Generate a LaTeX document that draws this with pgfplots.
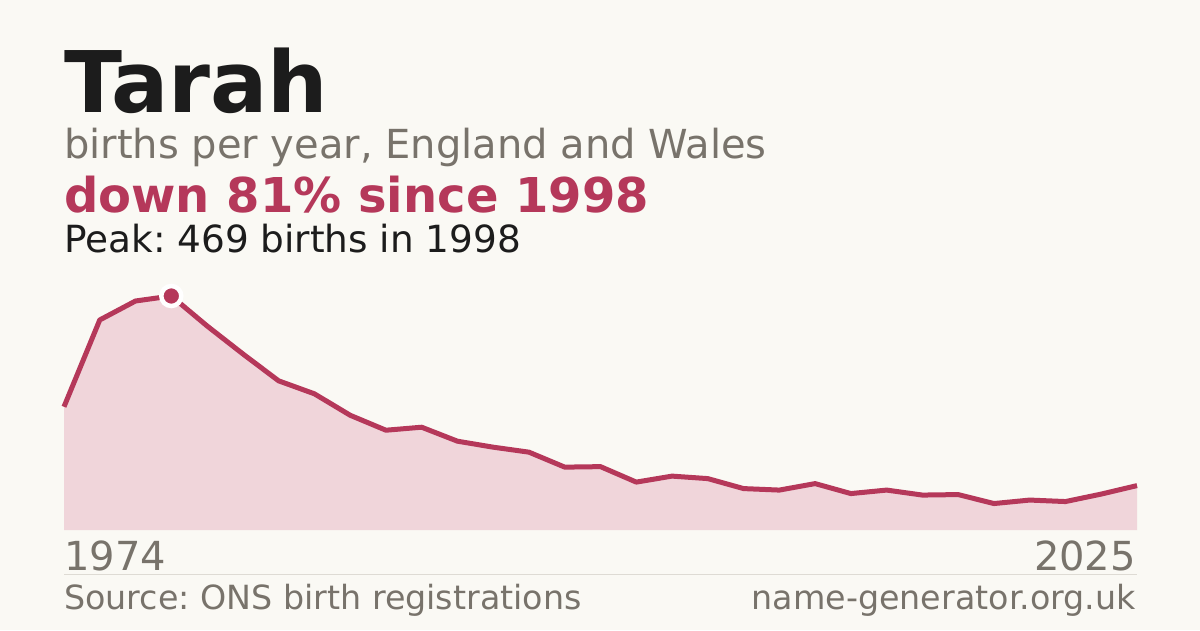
\documentclass[border=0pt]{standalone}
\usepackage{pgfplots}
\pgfplotsset{compat=1.18}
\usepackage{fontspec}
\setmainfont{DejaVu Sans}
\frenchspacing

\definecolor{bg}{RGB}{250,249,244}
\definecolor{crimson}{RGB}{181,56,90}
\definecolor{areapink}{RGB}{240,213,218}
\definecolor{greytext}{RGB}{120,115,107}
\definecolor{titleblack}{RGB}{28,28,28}
\definecolor{rulegrey}{RGB}{222,219,212}

\begin{document}
\begin{tikzpicture}[x=1pt,y=1pt]
\path[use as bounding box] (0,0) rectangle (1200,630);
\fill[bg] (0,0) rectangle (1200,630);

% headings
\node[anchor=base west,inner sep=0,text=titleblack] at (64,517)
  {\fontsize{85}{85}\selectfont\bfseries Tarah};
\node[anchor=base west,inner sep=0,text=greytext] at (64,471)
  {\fontsize{40}{40}\selectfont births per year, England and Wales};
\node[anchor=base west,inner sep=0,text=crimson] at (64,417)
  {\fontsize{48}{48}\selectfont\bfseries down 81\% since 1998};
\node[anchor=base west,inner sep=0,text=titleblack] at (64,377)
  {\fontsize{37.4}{37.4}\selectfont Peak: 469 births in 1998};

\begin{axis}[
  at={(64pt,100pt)}, anchor=south west,
  width=1073pt, height=234pt, scale only axis,
  xmin=1995, xmax=2025, ymin=0, ymax=469,
  hide axis, clip=false,
]
  \addplot[fill=areapink, draw=none] coordinates {
    (1995,247) (1996,421) (1997,459) (1998,469) (1999,409) (2000,353)
    (2001,299) (2002,273) (2003,230) (2004,200) (2005,206) (2006,178)
    (2007,166) (2008,156) (2009,126) (2010,127) (2011,96) (2012,108)
    (2013,103) (2014,83) (2015,80) (2016,93) (2017,73) (2018,80)
    (2019,70) (2020,71) (2021,53) (2022,60) (2023,57) (2024,72) (2025,89)
  } \closedcycle;
  \addplot[crimson, line width=5pt, line join=round] coordinates {
    (1995,247) (1996,421) (1997,459) (1998,469) (1999,409) (2000,353)
    (2001,299) (2002,273) (2003,230) (2004,200) (2005,206) (2006,178)
    (2007,166) (2008,156) (2009,126) (2010,127) (2011,96) (2012,108)
    (2013,103) (2014,83) (2015,80) (2016,93) (2017,73) (2018,80)
    (2019,70) (2020,71) (2021,53) (2022,60) (2023,57) (2024,72) (2025,89)
  };
  \addplot[only marks, mark=*,
    mark options={mark size=10pt, line width=4.5pt, fill=crimson, draw=white}]
    coordinates {(1998,469)};
\end{axis}

% footer
\node[anchor=base west,inner sep=0,text=greytext] at (64,60)
  {\fontsize{40}{40}\selectfont 1974};
\node[anchor=base east,inner sep=0,text=greytext] at (1136,60)
  {\fontsize{40}{40}\selectfont 2025};
\draw[rulegrey, line width=1pt] (64,55.5) -- (1137,55.5);
\node[anchor=base west,inner sep=0,text=greytext] at (64,21)
  {\fontsize{33.3}{33.3}\selectfont Source: ONS birth registrations};
\node[anchor=base east,inner sep=0,text=greytext] at (1136,21)
  {\fontsize{33.3}{33.3}\selectfont name-generator.org.uk};
\end{tikzpicture}
\end{document}
